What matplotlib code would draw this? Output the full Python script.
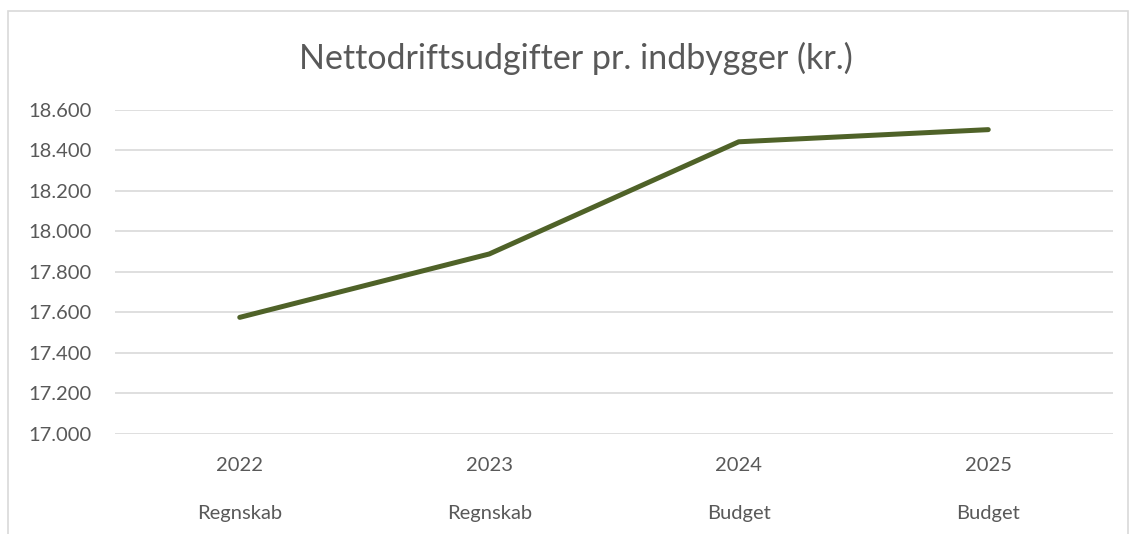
import matplotlib
matplotlib.use("Agg")
import matplotlib.pyplot as plt
from matplotlib.patches import Rectangle
from matplotlib.ticker import FuncFormatter

years = ["2022", "2023", "2024", "2025"]
kinds = ["Regnskab", "Regnskab", "Budget", "Budget"]
values = [17576, 17889, 18443, 18503]

title = "Nettodriftsudgifter pr. indbygger (kr.)"
text_color = "#595959"
grid_color = "#D9D9D9"
line_color = "#4F6228"

plt.rcParams["font.family"] = ["Lato", "DejaVu Sans"]

fig = plt.figure(figsize=(11.3, 5.34), dpi=100)
fig.patches.append(Rectangle((8 / 1130, -0.05), 1120 / 1130, 1.05 - 11 / 534,
                             transform=fig.transFigure, fill=False,
                             edgecolor=grid_color, linewidth=1.2))

ax = fig.add_axes([115 / 1130, 1 - 434 / 534, 998 / 1130, 324 / 534])
x = list(range(len(years)))
ax.plot(x, values, color=line_color, linewidth=3.6, solid_capstyle="round",
        solid_joinstyle="round")

ax.set_xlim(-0.5, len(years) - 0.5)
ax.set_ylim(17000, 18600)
ax.set_yticks(range(17000, 18601, 200))
ax.yaxis.set_major_formatter(FuncFormatter(lambda v, _: f"{v:,.0f}".replace(",", ".")))
ax.grid(axis="y", color=grid_color, linewidth=1.2)
ax.set_axisbelow(True)
for s in ax.spines.values():
    s.set_visible(False)
ax.tick_params(axis="y", length=0, pad=17, labelsize=14.5, labelcolor=text_color)
ax.set_xticks(x)
ax.set_xticklabels([])
ax.tick_params(axis="x", length=0)

for i in x:
    ax.text(i, -0.096, years[i], transform=ax.get_xaxis_transform(), ha="center",
            va="center", fontsize=14.5, color=text_color)
    ax.text(i, -0.244, kinds[i], transform=ax.get_xaxis_transform(), ha="center",
            va="center", fontsize=14.5, color=text_color)

fig.text(576 / 1130, 1 - 58 / 534, title, ha="center", va="center",
         fontsize=24.5, color=text_color)

fig.savefig("out.png", dpi=100)
